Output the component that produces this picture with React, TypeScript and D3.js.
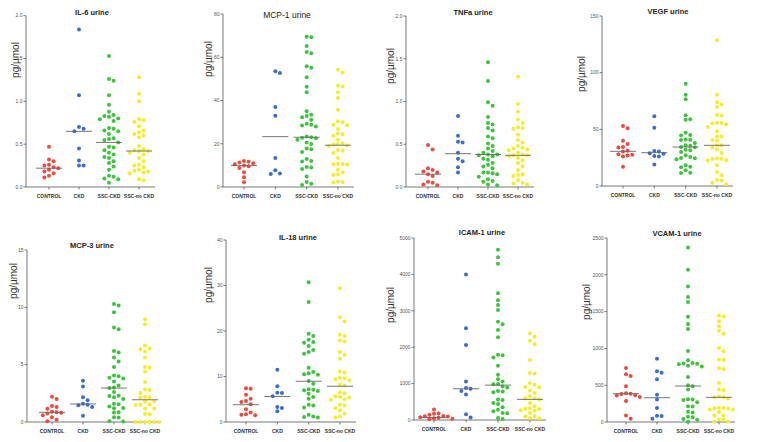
import React from "react";
import * as d3 from "d3";

const CATEGORIES = ["CONTROL", "CKD", "SSC-CKD", "SSC-no CKD"];
const GROUP_COLORS = ["#ef4a3d", "#3b6dcb", "#3fc23f", "#f6ec2c"];

const TITLES = ["IL-6 urine", "MCP-1 urine", "TNFa urine", "VEGF urine", "MCP-3 urine", "IL-18 urine", "ICAM-1 urine", "VCAM-1 urine"];
const Y_LABEL = "pg/\u00b5mol";

// values: [CONTROL, CKD, SSC-CKD, SSC-no CKD]
const il6 = [
  [0.47, 0.32, 0.3, 0.26, 0.25, 0.23, 0.22, 0.2, 0.18, 0.16, 0.13, 0.11],
  [1.84, 1.07, 0.7, 0.68, 0.65, 0.45, 0.31, 0.25, 0.25],
  [1.53, 1.26, 1.24, 1.07, 0.96, 0.88, 0.84, 0.83, 0.82, 0.8, 0.79, 0.77, 0.69, 0.68, 0.66, 0.65, 0.62, 0.57, 0.56, 0.55, 0.52, 0.47, 0.46, 0.43, 0.4, 0.38, 0.35, 0.34, 0.3, 0.28, 0.24, 0.2, 0.13, 0.12, 0.1, 0.09, 0.05],
  [1.28, 1.09, 1.0, 0.79, 0.78, 0.76, 0.71, 0.66, 0.64, 0.62, 0.6, 0.58, 0.48, 0.44, 0.43, 0.42, 0.42, 0.4, 0.38, 0.34, 0.3, 0.26, 0.25, 0.23, 0.2, 0.19, 0.18, 0.17, 0.16, 0.09, 0.08],
];
const mcp1 = [
  [12.0, 11.7, 11.3, 11.0, 10.5, 10.0, 9.6, 8.8, 6.8, 4.5, 2.2],
  [53.5, 52.7, 37.0, 33.0, 13.4, 7.7, 6.2, 6.0],
  [69.5, 69.3, 65.2, 62.4, 61.9, 55.8, 55.2, 50.8, 46.4, 43.8, 35.0, 33.4, 32.8, 32.2, 31.1, 29.2, 28.8, 28.4, 28.0, 23.4, 23.0, 22.8, 22.5, 21.9, 20.6, 19.9, 17.8, 17.5, 16.2, 12.9, 12.0, 11.8, 9.2, 9.0, 8.3, 4.8, 2.3, 1.5, 0.9],
  [54.2, 53.0, 46.8, 46.5, 43.8, 41.1, 35.7, 30.4, 30.0, 28.8, 28.5, 26.8, 24.7, 24.4, 23.7, 21.9, 20.1, 19.9, 19.6, 19.3, 19.0, 17.1, 16.8, 15.7, 13.4, 10.8, 10.6, 10.5, 10.4, 8.0, 6.8, 5.8, 5.6, 2.6, 2.3, 2.1],
];
const tnfa = [
  [0.49, 0.44, 0.22, 0.2, 0.18, 0.17, 0.15, 0.13, 0.06, 0.05, 0.03, 0.02],
  [0.83, 0.6, 0.53, 0.52, 0.4, 0.33, 0.3, 0.23, 0.17],
  [1.46, 1.24, 0.99, 0.95, 0.82, 0.75, 0.73, 0.69, 0.66, 0.59, 0.57, 0.51, 0.48, 0.45, 0.42, 0.4, 0.38, 0.38, 0.37, 0.36, 0.33, 0.32, 0.28, 0.26, 0.24, 0.22, 0.17, 0.17, 0.16, 0.15, 0.12, 0.09, 0.07, 0.06, 0.03, 0.02],
  [1.29, 0.97, 0.88, 0.79, 0.75, 0.7, 0.69, 0.68, 0.61, 0.55, 0.52, 0.48, 0.46, 0.45, 0.44, 0.43, 0.4, 0.38, 0.37, 0.37, 0.36, 0.34, 0.31, 0.28, 0.24, 0.2, 0.15, 0.14, 0.13, 0.08, 0.05, 0.04, 0.03],
];
const vegf = [
  [53, 51, 40, 37, 34.5, 34, 31, 30.5, 28, 27.5, 27, 26, 17],
  [61.5, 51.5, 30.8, 30.5, 29.0, 28.5, 26.5, 26.0, 19.0],
  [90.3, 80.6, 76.5, 62.4, 58.8, 58.5, 47.0, 44.9, 44.5, 41.0, 40.9, 40.5, 38, 36, 35.5, 34.4, 34.2, 32, 31.5, 30, 27.1, 25.5, 24.7, 24.5, 23.5, 18.2, 17.0, 16.6, 13.8, 11.6, 11.4],
  [128.5, 80.6, 73.8, 72.0, 69.7, 62.6, 62.2, 55.8, 55.5, 55.3, 54.4, 52.1, 48.2, 44.0, 43.6, 40.5, 40.1, 36, 35.9, 33.8, 32.1, 29.1, 24.3, 24.1, 23.9, 22.8, 22.4, 18.2, 12.4, 9.4, 5.2, 4.8, 2.9, 1.5],
];
const mcp3 = [
  [2.2, 2.0, 1.4, 1.3, 1.15, 0.9, 0.85, 0.8, 0.75, 0.58, 0.41, 0.2, 0.06],
  [3.6, 3.1, 2.15, 1.9, 1.6, 1.5, 1.45, 1.3, 0.55],
  [10.3, 10.15, 9.57, 8.24, 8.09, 6.2, 6.06, 5.63, 5.28, 4.79, 4.05, 4.0, 3.85, 3.8, 3.54, 3.19, 3.0, 2.96, 2.61, 2.3, 2.27, 2.15, 2.0, 1.6, 1.55, 1.36, 1.23, 1.2, 0.85, 0.82, 0.42, 0.4, 0.06, 0.05],
  [8.96, 8.53, 6.67, 6.4, 6.35, 6.15, 5.63, 4.8, 4.75, 4.41, 3.48, 2.83, 2.8, 2.52, 2.17, 2.15, 2.13, 1.82, 1.78, 1.52, 1.5, 1.48, 1.17, 1.15, 0.7, 0.68, 0, 0, 0, 0, 0, 0],
];
const il18 = [
  [7.4, 7.3, 6.0, 5.1, 4.6, 4.4, 3.9, 2.8, 2.1, 1.7, 1.6, 1.5],
  [11.5, 7.85, 6.45, 6.35, 5.65, 3.3, 3.1, 2.35],
  [30.7, 26.4, 19.4, 18.9, 18.1, 17.6, 17.4, 16.7, 15.8, 15.4, 15.0, 11.9, 11.0, 10.7, 10.5, 10.4, 9.0, 8.4, 7.2, 7.1, 7.0, 6.8, 6.2, 5.5, 5.1, 3.8, 3.6, 3.2, 1.6, 1.2, 1.1, 1.0],
  [29.4, 23.0, 22.1, 19.2, 18.9, 17.9, 17.7, 15.4, 14.8, 13.9, 11.1, 10.9, 9.7, 9.6, 9.4, 9.2, 8.2, 8.0, 6.5, 6.3, 5.6, 5.5, 5.4, 5.0, 4.9, 3.8, 3.6, 3.1, 2.6, 1.8, 1.2, 1.0],
];
const icam1 = [
  [290, 180, 170, 145, 110, 100, 95, 75, 60, 50, 35, 25],
  [4000, 2520, 2060, 1060, 880, 860, 800, 700, 160, 70],
  [4680, 4470, 4290, 3480, 3290, 3160, 3020, 2700, 2630, 2470, 2270, 1790, 1780, 1715, 1490, 1240, 1120, 1060, 990, 980, 920, 890, 800, 780, 760, 560, 550, 465, 440, 350, 280, 240, 195, 185, 55, 27],
  [2380, 2290, 2180, 2080, 1650, 1290, 1280, 1010, 970, 910, 900, 810, 740, 650, 600, 590, 560, 470, 380, 320, 310, 300, 270, 260, 190, 100, 95, 55, 50],
];
const vcam1 = [
  [735, 650, 625, 485, 390, 385, 380, 365, 360, 340, 285, 90, 45],
  [860, 690, 670, 580, 370, 305, 190, 85, 80, 45],
  [2370, 2070, 1840, 1700, 1630, 1430, 1330, 1265, 965, 840, 800, 795, 790, 785, 765, 755, 610, 500, 485, 440, 310, 305, 300, 270, 215, 210, 140, 130, 70, 65, 40, 30, 5],
  [1445, 1435, 1370, 1300, 1240, 1200, 1005, 960, 850, 845, 730, 720, 530, 440, 435, 345, 340, 335, 320, 195, 190, 188, 185, 170, 165, 135, 90, 88, 35, 30, 5, 2],
];

const MEDIANS = [
  [0.22, 0.65, 0.52, 0.42],
  [9.9, 23.3, 23.0, 19.3],
  [0.15, 0.39, 0.38, 0.37],
  [30.6, 29.4, 34.4, 35.9],
  [0.84, 1.57, 2.96, 1.94],
  [3.8, 5.6, 8.95, 7.85],
  [70, 858, 958, 566],
  [385, 330, 489, 335],
];

const Y_TICKS = [
  [0, 0.5, 1.0, 1.5, 2.0],
  [0, 20, 40, 60, 80],
  [0, 0.5, 1.0, 1.5, 2.0],
  [0, 50, 100, 150],
  [0, 5, 10, 15],
  [0, 10, 20, 30, 40],
  [0, 1000, 2000, 3000, 4000, 5000],
  [0, 500, 1000, 1500, 2000, 2500],
];
const TICK_FORMATS = [".1f", "d", ".1f", "d", "d", "d", "d", "d"];
const PANEL_DATA = [il6, mcp1, tnfa, vegf, mcp3, il18, icam1, vcam1];

// layout: axisX, yTop, yBottom, firstCatOffset, lastCatOffset, titleX, titleY, labelX, labelCY
const LAYOUT = [
  { ax: 26, top: 15.7, bot: 187, c0: 23, c1: 113, tx: 92, ty: 15, lx: 15, ly: 60 },
  { ax: 223, top: 14, bot: 187, c0: 21, c1: 115, tx: 287, ty: 18, lx: 208, ly: 59 },
  { ax: 406, top: 16, bot: 187, c0: 22, c1: 112, tx: 473, ty: 15, lx: 390, ly: 66 },
  { ax: 602, top: 16, bot: 186, c0: 21, c1: 115, tx: 668, ty: 14, lx: 581, ly: 74 },
  { ax: 27, top: 250, bot: 422, c0: 25, c1: 118, tx: 92, ty: 248, lx: 13, ly: 281 },
  { ax: 226, top: 240, bot: 422, c0: 20, c1: 114, tx: 298, ty: 240, lx: 208, ly: 285 },
  { ax: 414, top: 238, bot: 420, c0: 20, c1: 116, tx: 482, ty: 235, lx: 390, ly: 305 },
  { ax: 607, top: 238, bot: 422, c0: 19, c1: 112, tx: 677, ty: 236, lx: 586, ly: 302 },
];

const FONT = "Liberation Sans, Arial, sans-serif";
const R = 2;

function swarm(values: number[], y: (v: number) => number, cx: number) {
  const sorted = [...values].sort((a, b) => b - a);
  const placed: { x: number; y: number }[] = [];
  const step = 4.6;
  const minD = 4.3;
  for (const v of sorted) {
    const py = y(v);
    let k = 0;
    let px = cx;
    for (let i = 0; i < 40; i++) {
      const off = i === 0 ? 0 : (i % 2 === 1 ? 1 : -1) * Math.ceil(i / 2) * step;
      px = cx + off;
      const hit = placed.some((p) => Math.hypot(p.x - px, p.y - py) < minD);
      if (!hit) break;
      k++;
    }
    placed.push({ x: px, y: py });
  }
  return placed;
}

function Panel({ idx }: { idx: number }) {
  const L = LAYOUT[idx];
  const ticks = Y_TICKS[idx];
  const y = d3.scaleLinear().domain([0, ticks[ticks.length - 1]]).range([L.bot, L.top]);
  const x = d3.scalePoint<string>().domain(CATEGORIES).range([L.ax + L.c0, L.ax + L.c1]);
  const fmt = d3.format(TICK_FORMATS[idx]);
  const data = PANEL_DATA[idx];
  const xEnd = L.ax + L.c1 + 16;
  return (
    <g>
      <text x={L.tx} y={L.ty} textAnchor="middle" fontSize={idx === 1 ? 8.5 : 7.5} fontWeight={idx === 1 ? 400 : 700} fill="#222" fontFamily={FONT}>
        {TITLES[idx]}
      </text>
      <text transform={`translate(${L.lx},${L.ly}) rotate(-90)`} textAnchor="middle" dominantBaseline="central" fontSize={10} fill="#333" fontFamily={FONT}>
        {Y_LABEL}
      </text>
      <line x1={L.ax} x2={L.ax} y1={L.top} y2={L.bot} stroke="#555" strokeWidth={0.8} />
      <line x1={L.ax} x2={xEnd} y1={L.bot} y2={L.bot} stroke="#555" strokeWidth={0.8} />
      {ticks.map((t) => (
        <g key={t}>
          <line x1={L.ax - 2.5} x2={L.ax} y1={y(t)} y2={y(t)} stroke="#555" strokeWidth={0.8} />
          <text x={L.ax - 3.5} y={y(t)} dy="0.35em" textAnchor="end" fontSize={5} fill="#555" fontFamily={FONT}>
            {fmt(t)}
          </text>
        </g>
      ))}
      {CATEGORIES.map((c) => (
        <g key={c}>
          <line x1={x(c)} x2={x(c)} y1={L.bot} y2={L.bot + 2.5} stroke="#555" strokeWidth={0.8} />
          <text x={x(c)} y={L.bot + 11} textAnchor="middle" fontSize={5} fontWeight={700} fill="#333" fontFamily={FONT}>
            {c}
          </text>
        </g>
      ))}
      {data.map((vals, gi) => {
        const cx = x(CATEGORIES[gi]) as number;
        const pts = swarm(vals, y, cx);
        return (
          <g key={gi}>
            {pts.map((p, i) => (
              <circle key={i} cx={p.x} cy={p.y} r={R} fill={GROUP_COLORS[gi]} />
            ))}
            <line x1={cx - 13} x2={cx + 13} y1={y(MEDIANS[idx][gi])} y2={y(MEDIANS[idx][gi])} stroke="#666" strokeWidth={0.9} />
          </g>
        );
      })}
    </g>
  );
}

export default function App() {
  return (
    <svg width={759} height={442} style={{ position: "absolute", left: 0, top: 0, background: "#fff" }}>
      <rect width={759} height={442} fill="#fff" />
      {LAYOUT.map((_, i) => (
        <Panel key={i} idx={i} />
      ))}
    </svg>
  );
}
